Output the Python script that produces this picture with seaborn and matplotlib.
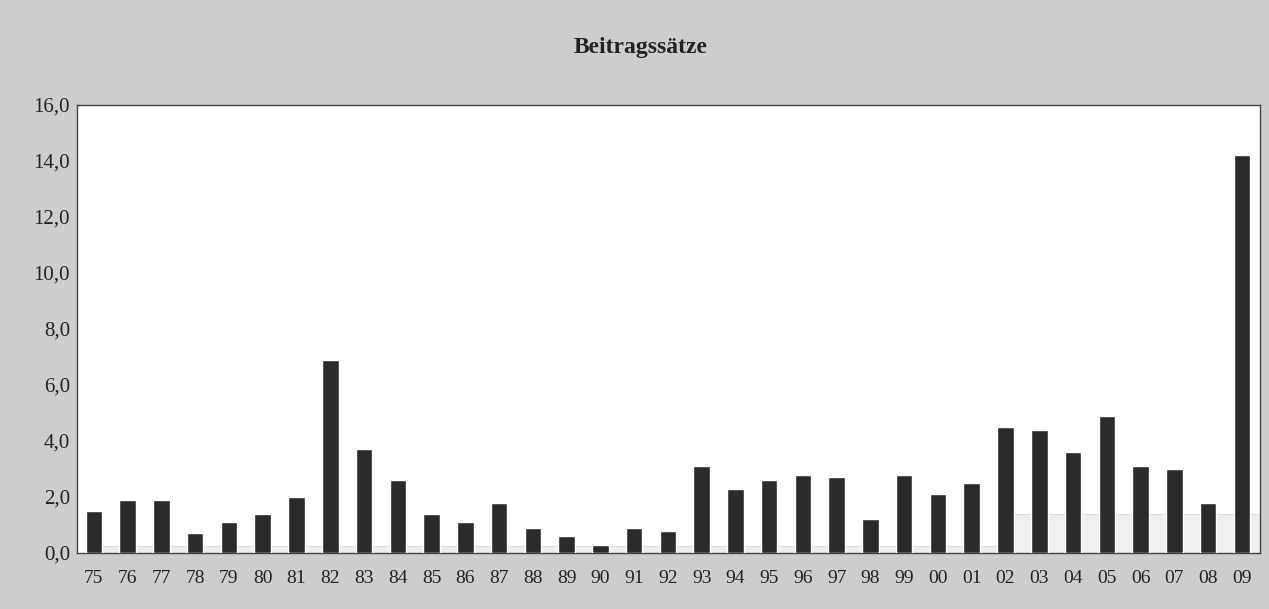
import numpy as np
import pandas as pd
import seaborn as sns
import matplotlib.pyplot as plt
from matplotlib.ticker import FuncFormatter

years = ["75", "76", "77", "78", "79", "80", "81", "82", "83", "84",
         "85", "86", "87", "88", "89", "90", "91", "92", "93", "94",
         "95", "96", "97", "98", "99", "00", "01", "02", "03", "04",
         "05", "06", "07", "08", "09"]
rates = [1.5, 1.9, 1.9, 0.7, 1.1, 1.4, 2.0, 6.9, 3.7, 2.6,
         1.4, 1.1, 1.8, 0.9, 0.6, 0.3, 0.9, 0.8, 3.1, 2.3,
         2.6, 2.8, 2.7, 1.2, 2.8, 2.1, 2.5, 4.5, 4.4, 3.6,
         4.9, 3.1, 3.0, 1.8, 14.2]
base = [0.25] * 27 + [1.4] * 8

df = pd.DataFrame({"year": years, "rate": rates, "base": base})

sns.set_style("white")
plt.rcParams["font.family"] = ["Liberation Serif", "DejaVu Serif"]

fig = plt.figure(figsize=(12.69, 6.09), dpi=100)
fig.patch.set_facecolor("#cdcdcd")
ax = fig.add_axes([0.0607, 0.092, 0.932, 0.7356])
ax.set_facecolor("white")

# faint second series, sitting to the right of each dark bar
sns.barplot(data=df, x="year", y="base", color="#f0f0f0", width=0.52,
            saturation=1, edgecolor="#dadada", linewidth=0.6, ax=ax)
for p in ax.patches:
    p.set_x(p.get_x() + 0.5)
n_light = len(ax.patches)

sns.barplot(data=df, x="year", y="rate", color="#2b2b2b", width=0.49,
            saturation=1, ax=ax)
for p in ax.patches[n_light:]:
    p.set_zorder(3)

ax.set_ylim(0, 16)
ax.set_xlim(-0.5, len(years) - 0.47)
ax.set_yticks(np.arange(0, 17, 2))
ax.yaxis.set_major_formatter(FuncFormatter(lambda v, _: f"{v:.1f}".replace(".", ",")))
ax.tick_params(axis="y", labelsize=15, length=3, color="#444444", pad=2,
               labelcolor="#222222")
ax.tick_params(axis="x", labelsize=14, length=0, pad=12, labelcolor="#222222")
ax.set_xlabel("")
ax.set_ylabel("")
for s in ax.spines.values():
    s.set_visible(True)
    s.set_color("#444444")
    s.set_linewidth(1.0)

fig.text(0.505, 0.922, "Beitragssätze", ha="center", va="center",
         fontsize=17, fontweight="bold", color="#222222")

plt.savefig("out.png", dpi=100, facecolor=fig.get_facecolor())
plt.close()
